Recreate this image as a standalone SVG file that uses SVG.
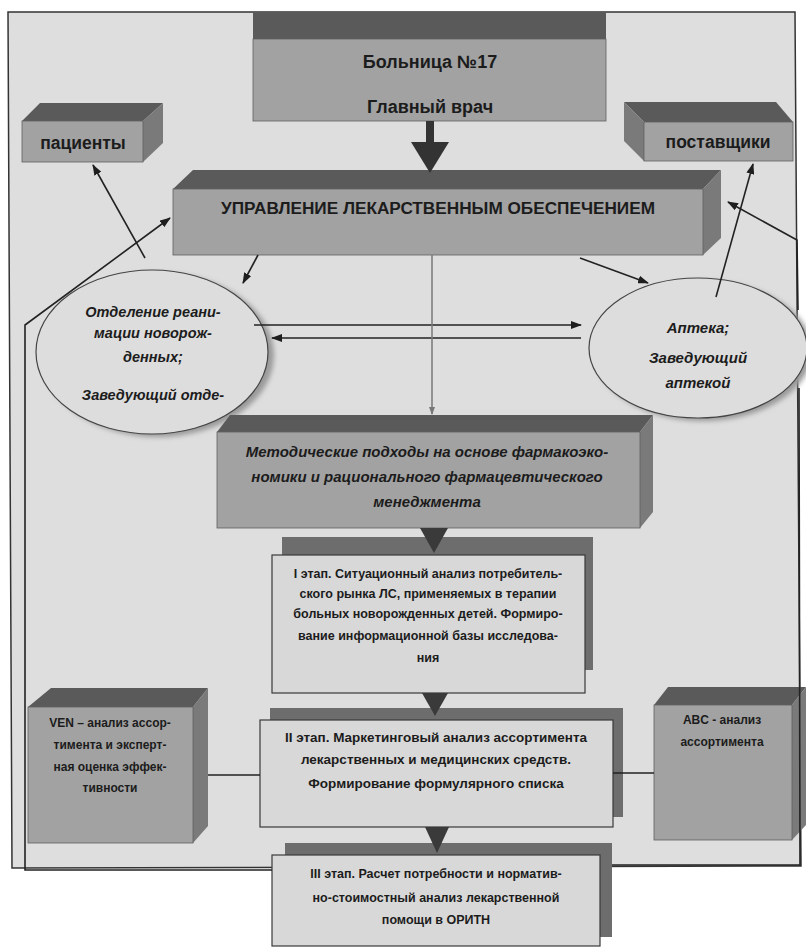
<svg xmlns="http://www.w3.org/2000/svg" width="806" height="947" viewBox="0 0 806 947">
<defs>
<marker id="ah" markerWidth="11" markerHeight="8" refX="10" refY="4" orient="auto" markerUnits="userSpaceOnUse"><path d="M0,0 L11,4 L0,8 z" fill="#1e1e1e"/></marker>
<marker id="ahg" markerWidth="8" markerHeight="6" refX="7" refY="3" orient="auto" markerUnits="userSpaceOnUse"><path d="M0,0 L8,3 L0,6 z" fill="#777"/></marker>
<filter id="blur" x="-10%" y="-10%" width="120%" height="120%"><feGaussianBlur stdDeviation="2.5"/></filter>
</defs>
<style>
.t{font-family:"Liberation Sans",Arial,sans-serif;font-weight:bold;fill:#1c1c1c;text-anchor:middle}
.i{font-style:italic}
.front{fill:#a2a2a2;stroke:#606060;stroke-width:0.8}
.top{fill:#5a5a5a}
.side{fill:#7a7a7a}
.stage{fill:#d8d8d8;stroke:#3a3a3a;stroke-width:1.2}
.shadow{fill:#6d6d6d}
.ell{fill:#dddddd;stroke:#444;stroke-width:1.2}
.esh{fill:#9a9a9a;filter:url(#blur)}
.ln{fill:none;stroke:#222;stroke-width:1.6}
.tri{fill:#3a3a3a}
</style>
<rect width="806" height="947" fill="#ffffff"/>
<path id="frame" d="M8,12 L795,12 L801,866 L12,868 Z" fill="#dedede" stroke="#333" stroke-width="1.5"/>

<g id="nodes">
<g id="n-hospital">
<rect x="253" y="12" width="353" height="28" class="top"/>
<rect x="253" y="39" width="353" height="82" class="front"/>
<text class="t" x="430" y="68" font-size="18">Больница №17</text>
<text class="t" x="430" y="113" font-size="18">Главный врач</text>
</g>
<g id="n-patients">
<polygon class="top" points="22,121 40,103 163,103 143,121"/>
<polygon class="side" points="143,121 163,103 163,143 143,162"/>
<rect x="22" y="121" width="121" height="41" class="front"/>
<text class="t" x="83" y="149" font-size="17.5">пациенты</text>
</g>
<g id="n-suppliers">
<polygon class="top" points="624,102 776,102 793,122 644,122"/>
<polygon class="side" points="624,102 644,122 644,161 624,141"/>
<rect x="644" y="122" width="149" height="39" class="front"/>
<text class="t" x="718" y="148" font-size="17.5">поставщики</text>
</g>
<g id="n-management">
<polygon class="top" points="173,189 193,170 721,170 703,189"/>
<polygon class="side" points="703,189 721,170 721,238 703,255"/>
<rect x="173" y="189" width="530" height="66" class="front"/>
<text class="t" x="438" y="214" font-size="17.2">УПРАВЛЕНИЕ ЛЕКАРСТВЕННЫМ ОБЕСПЕЧЕНИЕМ</text>
</g>
<g id="n-neonatal">
<ellipse class="esh" cx="158" cy="355" rx="116" ry="82"/>
<ellipse class="ell" cx="152" cy="352" rx="116" ry="82"/>
<text class="t i" x="153" y="317" font-size="14.5">Отделение реани-</text>
<text class="t i" x="153" y="338" font-size="14.5">мации новорож-</text>
<text class="t i" x="153" y="362" font-size="14.5">денных;</text>
<text class="t i" x="153" y="400" font-size="14.5">Заведующий отде-</text>
</g>
<g id="n-pharmacy">
<ellipse class="esh" cx="703" cy="351" rx="109" ry="70"/>
<ellipse class="ell" cx="698" cy="348" rx="109" ry="70"/>
<text class="t i" x="698" y="333" font-size="15">Аптека;</text>
<text class="t i" x="698" y="363" font-size="15">Заведующий</text>
<text class="t i" x="698" y="388" font-size="15">аптекой</text>
</g>
<g id="n-methods">
<polygon class="top" points="217,432 230,415 653,415 640,432"/>
<polygon class="side" points="640,432 653,415 653,512 640,528"/>
<rect x="217" y="432" width="423" height="96" class="front"/>
<text class="t i" x="427" y="457" font-size="15">Методические подходы на основе фармакоэко-</text>
<text class="t i" x="427" y="482" font-size="15">номики и рационального фармацевтического</text>
<text class="t i" x="427" y="507" font-size="15">менеджмента</text>
</g>
<g id="n-stage1">
<rect x="282" y="537" width="311" height="133" class="shadow"/>
<rect x="272" y="555" width="313" height="138" class="stage"/>
<text class="t" x="428" y="578" font-size="12.5">I этап. Ситуационный анализ потребитель-</text>
<text class="t" x="428" y="598" font-size="12.5">ского рынка ЛС, применяемых в терапии</text>
<text class="t" x="428" y="618" font-size="12.5">больных новорожденных детей. Формиро-</text>
<text class="t" x="428" y="640" font-size="12.5">вание информационной базы исследова-</text>
<text class="t" x="428" y="662" font-size="12.5">ния</text>
</g>
<g id="n-stage2">
<rect x="270" y="708" width="353" height="109" class="shadow"/>
<rect x="260" y="720" width="353" height="107" class="stage"/>
<text class="t" x="436" y="742" font-size="13.5">II этап. Маркетинговый анализ ассортимента</text>
<text class="t" x="436" y="764" font-size="13.5">лекарственных и медицинских средств.</text>
<text class="t" x="436" y="788" font-size="13.5">Формирование формулярного списка</text>
</g>
<g id="n-stage3">
<rect x="285" y="843" width="327" height="94" class="shadow"/>
<rect x="272" y="855" width="328" height="91" class="stage"/>
<text class="t" x="436" y="878" font-size="12.5">III этап. Расчет потребности и норматив-</text>
<text class="t" x="436" y="902" font-size="12.5">но-стоимостный анализ лекарственной</text>
<text class="t" x="436" y="924" font-size="12.5">помощи в ОРИТН</text>
</g>
<g id="n-ven">
<polygon class="top" points="28,707 51,688 208,688 193,707"/>
<polygon class="side" points="193,707 208,688 208,826 193,843"/>
<rect x="28" y="707" width="165" height="136" class="front"/>
<text class="t" x="110" y="727" font-size="12">VEN – анализ ассор-</text>
<text class="t" x="110" y="749" font-size="12">тимента и эксперт-</text>
<text class="t" x="110" y="771" font-size="12">ная оценка эффек-</text>
<text class="t" x="110" y="792" font-size="12">тивности</text>
</g>
<g id="n-abc">
<polygon class="top" points="654,705 668,687 806,687 792,705"/>
<polygon class="side" points="792,705 806,687 806,825 792,840"/>
<rect x="654" y="705" width="138" height="135" class="front"/>
<text class="t" x="722" y="724" font-size="12">ABC - анализ</text>
<text class="t" x="722" y="746" font-size="12">ассортимента</text>
</g>
</g>

<g id="connectors">
<rect x="426" y="121" width="8" height="22" fill="#333"/>
<polygon points="411,142 449,142 430,173" fill="#333"/>
<line class="ln" x1="145" y1="258" x2="93" y2="165" marker-end="url(#ah)"/>
<path class="ln" d="M272,870 L25,870 L25,325 L170,218" marker-end="url(#ah)"/>
<path class="ln" d="M612,865 L800,865 L799,388 M798,310 L797,240 L728,202" marker-end="url(#ah)"/>
<line class="ln" x1="258" y1="255" x2="243" y2="283" marker-end="url(#ah)"/>
<line class="ln" x1="580" y1="258" x2="648" y2="283" marker-end="url(#ah)"/>
<line class="ln" x1="716" y1="297" x2="753" y2="164" marker-end="url(#ah)"/>
<line class="ln" x1="254" y1="325" x2="581" y2="325" marker-end="url(#ah)"/>
<line class="ln" x1="581" y1="338" x2="272" y2="338" marker-end="url(#ah)"/>
<line x1="432" y1="255" x2="432" y2="414" stroke="#777" stroke-width="1.5" marker-end="url(#ahg)"/>
<polygon class="tri" points="420,528 448,528 434,553"/>
<polygon class="tri" points="422,693 448,693 435,716"/>
<polygon class="tri" points="425,827 449,827 437,853"/>
<line class="ln" x1="208" y1="775" x2="260" y2="775"/>
<line class="ln" x1="613" y1="773" x2="654" y2="773"/>
</g>
</svg>
